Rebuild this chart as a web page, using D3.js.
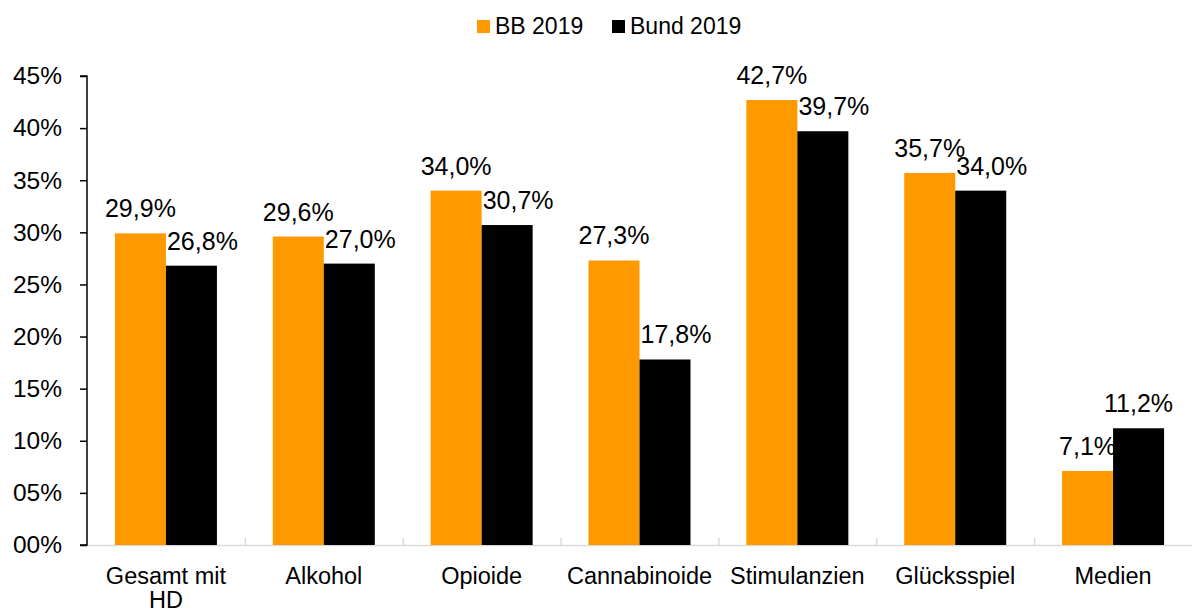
<!DOCTYPE html>
<html>
<head>
<meta charset="utf-8">
<script src="https://cdn.jsdelivr.net/npm/d3@7"></script>
<style>
  body { margin: 0; background: #fff; }
  text { font-family: "Liberation Sans", Arial, sans-serif; fill: #000; }
</style>
</head>
<body>
<script>
var w = 1192;
var h = 610;

// Anteile je Hauptdiagnose
var categories = ["Gesamt mit\nHD", "Alkohol", "Opioide", "Cannabinoide", "Stimulanzien", "Glücksspiel", "Medien"];
var seriesNames = ["BB 2019", "Bund 2019"];
var bb2019 = [29.9, 29.6, 34.0, 27.3, 42.7, 35.7, 7.1];
var bund2019 = [26.8, 27.0, 30.7, 17.8, 39.7, 34.0, 11.2];
var yTicks = [0, 5, 10, 15, 20, 25, 30, 35, 40, 45];
var colors = ["#ff9900", "#000000"];

var plotLeft = 87, plotRight = 1192, plotTop = 76, plotBottom = 545;

var svg = d3.select("body")
    .append("svg")
    .attr("width", w)
    .attr("height", h);

var x = d3.scaleBand()
    .domain(d3.range(categories.length))
    .range([plotLeft, plotRight]);

var y = d3.scaleLinear()
    .domain([0, 45])
    .range([plotBottom, plotTop]);

var barW = 51;
var fmt = function(v) { return v.toFixed(1).replace(".", ",") + "%"; };

// x axis line + category ticks
svg.append("line")
    .attr("x1", plotLeft).attr("x2", plotRight)
    .attr("y1", plotBottom + 0.5).attr("y2", plotBottom + 0.5)
    .attr("stroke", "#d9d9d9")
    .attr("stroke-width", 1.5);

svg.selectAll(".ctick")
    .data(d3.range(1, categories.length))
    .enter()
    .append("line")
    .attr("x1", function(d) { return x(d) + 0.5; })
    .attr("x2", function(d) { return x(d) + 0.5; })
    .attr("y1", plotBottom - 7)
    .attr("y2", plotBottom)
    .attr("stroke", "#d9d9d9")
    .attr("stroke-width", 1.5);

// bars
var series = [bb2019, bund2019];
series.forEach(function(vals, s) {
  svg.append("g")
    .selectAll("rect")
    .data(vals)
    .enter()
    .append("rect")
    .attr("x", function(d, i) { return x(i) + x.bandwidth() / 2 - barW + s * barW; })
    .attr("y", function(d) { return y(d); })
    .attr("width", barW)
    .attr("height", function(d) { return plotBottom - y(d); })
    .attr("fill", colors[s]);
});

// y axis
var yAxis = d3.axisLeft(y)
    .tickValues(yTicks)
    .tickSize(7)
    .tickPadding(18)
    .tickFormat(function(d) { return (d < 10 ? "0" : "") + d + "%"; });

var gy = svg.append("g")
    .attr("transform", "translate(" + plotLeft + ",0)")
    .call(yAxis);
gy.select(".domain").attr("stroke", "#000").attr("stroke-width", 1.5)
    .attr("d", "M-7," + plotTop + "H0V" + plotBottom + "H-7");
gy.selectAll(".tick line").attr("stroke", "#000").attr("stroke-width", 1.5);
gy.selectAll(".tick text")
    .style("font-family", "'Liberation Sans', Arial, sans-serif")
    .style("font-size", "24.5px")
    .attr("fill", "#000");

// value labels
series.forEach(function(vals, s) {
  svg.append("g")
    .selectAll("text")
    .data(vals)
    .enter()
    .append("text")
    .attr("x", function(d, i) {
      var cx = x(i) + x.bandwidth() / 2 - barW / 2 + s * barW;
      if (s === 1 && bb2019[i] > d) cx += 11;
      return cx;
    })
    .attr("y", function(d) { return y(d) - 16; })
    .attr("text-anchor", "middle")
    .style("font-size", "25px")
    .text(fmt);
});

// category labels
svg.append("g")
  .selectAll("text")
  .data(categories)
  .enter()
  .append("text")
  .attr("text-anchor", "middle")
  .attr("transform", function(d, i) { return "translate(" + (x(i) + x.bandwidth() / 2) + "," + 584 + ")"; })
  .style("font-size", "23.5px")
  .each(function(d) {
    var lines = d.split("\n");
    d3.select(this).selectAll("tspan")
      .data(lines)
      .enter()
      .append("tspan")
      .attr("x", 0)
      .attr("dy", function(l, j) { return j === 0 ? 0 : 24; })
      .text(function(l) { return l; });
  });

// legend
var legend = svg.append("g");
var lx = [477, 612];
seriesNames.forEach(function(name, s) {
  legend.append("rect")
    .attr("x", lx[s]).attr("y", 20)
    .attr("width", 13).attr("height", 13)
    .attr("fill", colors[s]);
  legend.append("text")
    .attr("x", lx[s] + 18).attr("y", 34)
    .style("font-size", "23px")
    .text(name);
});
</script>
</body>
</html>
